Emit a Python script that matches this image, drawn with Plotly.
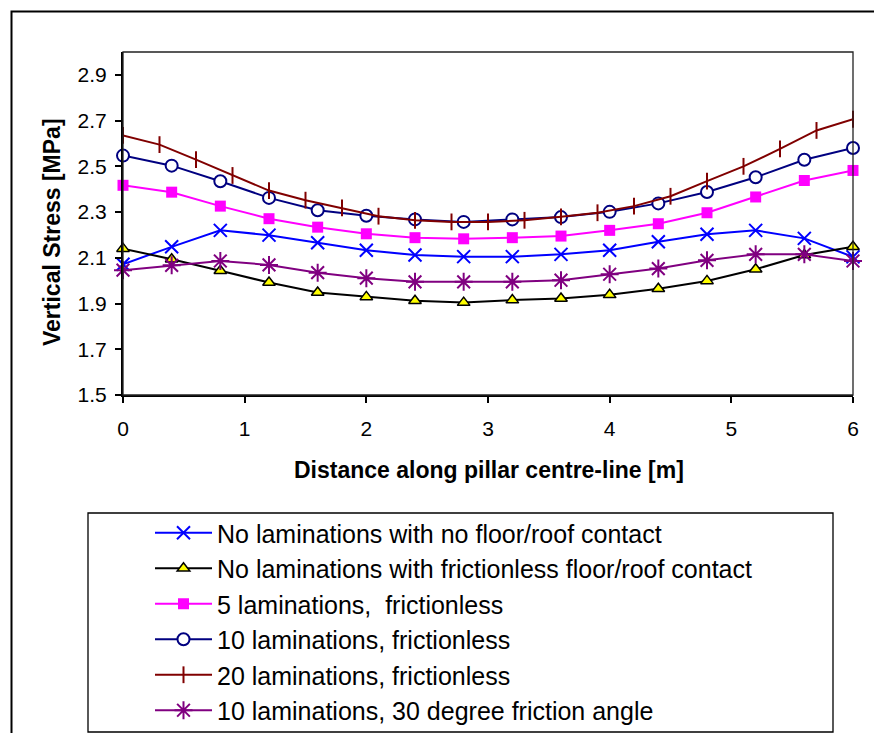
import plotly.graph_objects as go

# Positions along the pillar centre-line [m]
distance = [0.0, 0.4, 0.8, 1.2, 1.6, 2.0, 2.4, 2.8, 3.2, 3.6, 4.0, 4.4, 4.8, 5.2, 5.6, 6.0]
distance_fine = [0.0, 0.3, 0.6, 0.9, 1.2, 1.5, 1.8, 2.1, 2.4, 2.7, 3.0,
                 3.3, 3.6, 3.9, 4.2, 4.5, 4.8, 5.1, 5.4, 5.7, 6.0]

# Vertical stress [MPa] for each model
no_lam_no_contact = [2.072, 2.148, 2.220, 2.199, 2.166, 2.133, 2.112, 2.105,
                     2.105, 2.115, 2.133, 2.170, 2.203, 2.220, 2.185, 2.104]
no_lam_frictionless = [2.140, 2.094, 2.043, 1.992, 1.948, 1.929, 1.912, 1.904,
                       1.915, 1.922, 1.938, 1.965, 1.999, 2.050, 2.112, 2.148]
lam5_frictionless = [2.417, 2.387, 2.326, 2.271, 2.234, 2.205, 2.188, 2.183,
                     2.188, 2.195, 2.220, 2.249, 2.297, 2.366, 2.438, 2.482]
lam10_frictionless = [2.547, 2.503, 2.435, 2.362, 2.308, 2.284, 2.268, 2.257,
                      2.268, 2.278, 2.301, 2.338, 2.388, 2.452, 2.529, 2.580]
lam20_frictionless = [2.635, 2.595, 2.529, 2.460, 2.394, 2.352, 2.318, 2.282,
                      2.264, 2.257, 2.257, 2.264, 2.279, 2.297, 2.326, 2.369,
                      2.435, 2.500, 2.576, 2.657, 2.706]
lam10_friction30 = [2.046, 2.067, 2.086, 2.069, 2.035, 2.011, 1.995, 1.995,
                    1.995, 2.002, 2.028, 2.053, 2.089, 2.115, 2.115, 2.086]

y_ticks = [1.5, 1.7, 1.9, 2.1, 2.3, 2.5, 2.7, 2.9]
x_ticks = [0, 1, 2, 3, 4, 5, 6]

FONT = "Liberation Sans, Arial, sans-serif"
W, H = 874, 733
L, R, T, B = 123, 21, 52, 338  # plot-area margins in px
PW, PH = W - L - R, H - T - B


def px_x(p):
    """Horizontal pixel -> paper coordinate."""
    return (p - L) / PW


def px_y(p):
    """Vertical pixel (from top) -> paper coordinate."""
    return (H - B - p) / PH


series = [
    dict(name="No laminations with no floor/roof contact", x=distance, y=no_lam_no_contact,
         line=dict(color="#0000FF", width=2),
         marker=dict(symbol="x-thin", size=13, line=dict(color="#0000FF", width=2))),
    dict(name="No laminations with frictionless floor/roof contact", x=distance, y=no_lam_frictionless,
         line=dict(color="#000000", width=2),
         marker=dict(symbol="triangle-up", size=11, color="#FFFF00", line=dict(color="#000000", width=1.5))),
    dict(name="5 laminations,  frictionless", x=distance, y=lam5_frictionless,
         line=dict(color="#FF00FF", width=2),
         marker=dict(symbol="square", size=11, color="#FF00FF", line=dict(width=0))),
    dict(name="10 laminations, frictionless", x=distance, y=lam10_frictionless,
         line=dict(color="#000080", width=2),
         marker=dict(symbol="circle", size=12, color="#FFFFFF", line=dict(color="#000080", width=2))),
    dict(name="20 laminations, frictionless", x=distance_fine, y=lam20_frictionless,
         line=dict(color="#800000", width=2),
         marker=dict(symbol="line-ns", size=12, line=dict(color="#800000", width=2))),
    dict(name="10 laminations, 30 degree friction angle", x=distance, y=lam10_friction30,
         line=dict(color="#800080", width=2),
         marker=dict(symbol="asterisk", size=15, line=dict(color="#800080", width=2))),
]

fig = go.Figure()
for s in series:
    fig.add_trace(go.Scatter(mode="lines+markers", cliponaxis=False, **s))

fig.update_layout(
    width=W, height=H,
    margin=dict(l=L, r=R, t=T, b=B, pad=0, autoexpand=False),
    paper_bgcolor="white", plot_bgcolor="white",
    font=dict(family=FONT, color="black"),
    showlegend=True,
    legend=dict(
        xref="container", yref="container",
        x=88 / W, y=1 - 510 / H, xanchor="left", yanchor="top",
        bgcolor="rgba(0,0,0,0)", borderwidth=0,
        font=dict(family=FONT, size=25, color="black"),
        itemwidth=57, indentation=62, tracegroupgap=0,
    ),
    xaxis=dict(
        range=[0, 6], tickvals=x_ticks, ticktext=[str(v) for v in x_ticks],
        showgrid=False, zeroline=False, showline=True, linecolor="black", linewidth=2,
        ticks="outside", ticklen=6, tickwidth=1.5, tickcolor="black",
        tickfont=dict(family=FONT, size=21, color="black"), ticklabelstandoff=8,
    ),
    yaxis=dict(
        range=[1.5, 3.0], tickvals=y_ticks, ticktext=[f"{v:.1f}" for v in y_ticks],
        showgrid=False, zeroline=False, showline=True, linecolor="black", linewidth=2,
        ticks="outside", ticklen=6, tickwidth=1.5, tickcolor="black",
        tickfont=dict(family=FONT, size=21, color="black"), ticklabelstandoff=4,
    ),
    annotations=[
        dict(text="<b>Distance along pillar centre-line [m]</b>", xref="paper", yref="paper",
             x=px_x(489), y=px_y(470), xanchor="center", yanchor="middle", showarrow=False,
             font=dict(family=FONT, size=23, color="black")),
        dict(text="<b>Vertical Stress [MPa]</b>", xref="paper", yref="paper",
             x=px_x(52), y=px_y(232), xanchor="center", yanchor="middle", showarrow=False,
             textangle=-90, font=dict(family=FONT, size=23, color="black")),
    ],
    shapes=[
        # outer chart frame
        dict(type="rect", xref="paper", yref="paper", x0=px_x(11.5), x1=px_x(890),
             y0=px_y(11.5), y1=px_y(760), line=dict(color="black", width=2)),
        # plot-area border
        dict(type="rect", xref="paper", yref="paper", x0=0, x1=1, y0=0, y1=1,
             line=dict(color="#222222", width=1.3)),
        # legend frame
        dict(type="rect", xref="paper", yref="paper", x0=px_x(88), x1=px_x(833),
             y0=px_y(513), y1=px_y(732), line=dict(color="black", width=1.3)),
    ],
)

fig.write_html("out.html")
